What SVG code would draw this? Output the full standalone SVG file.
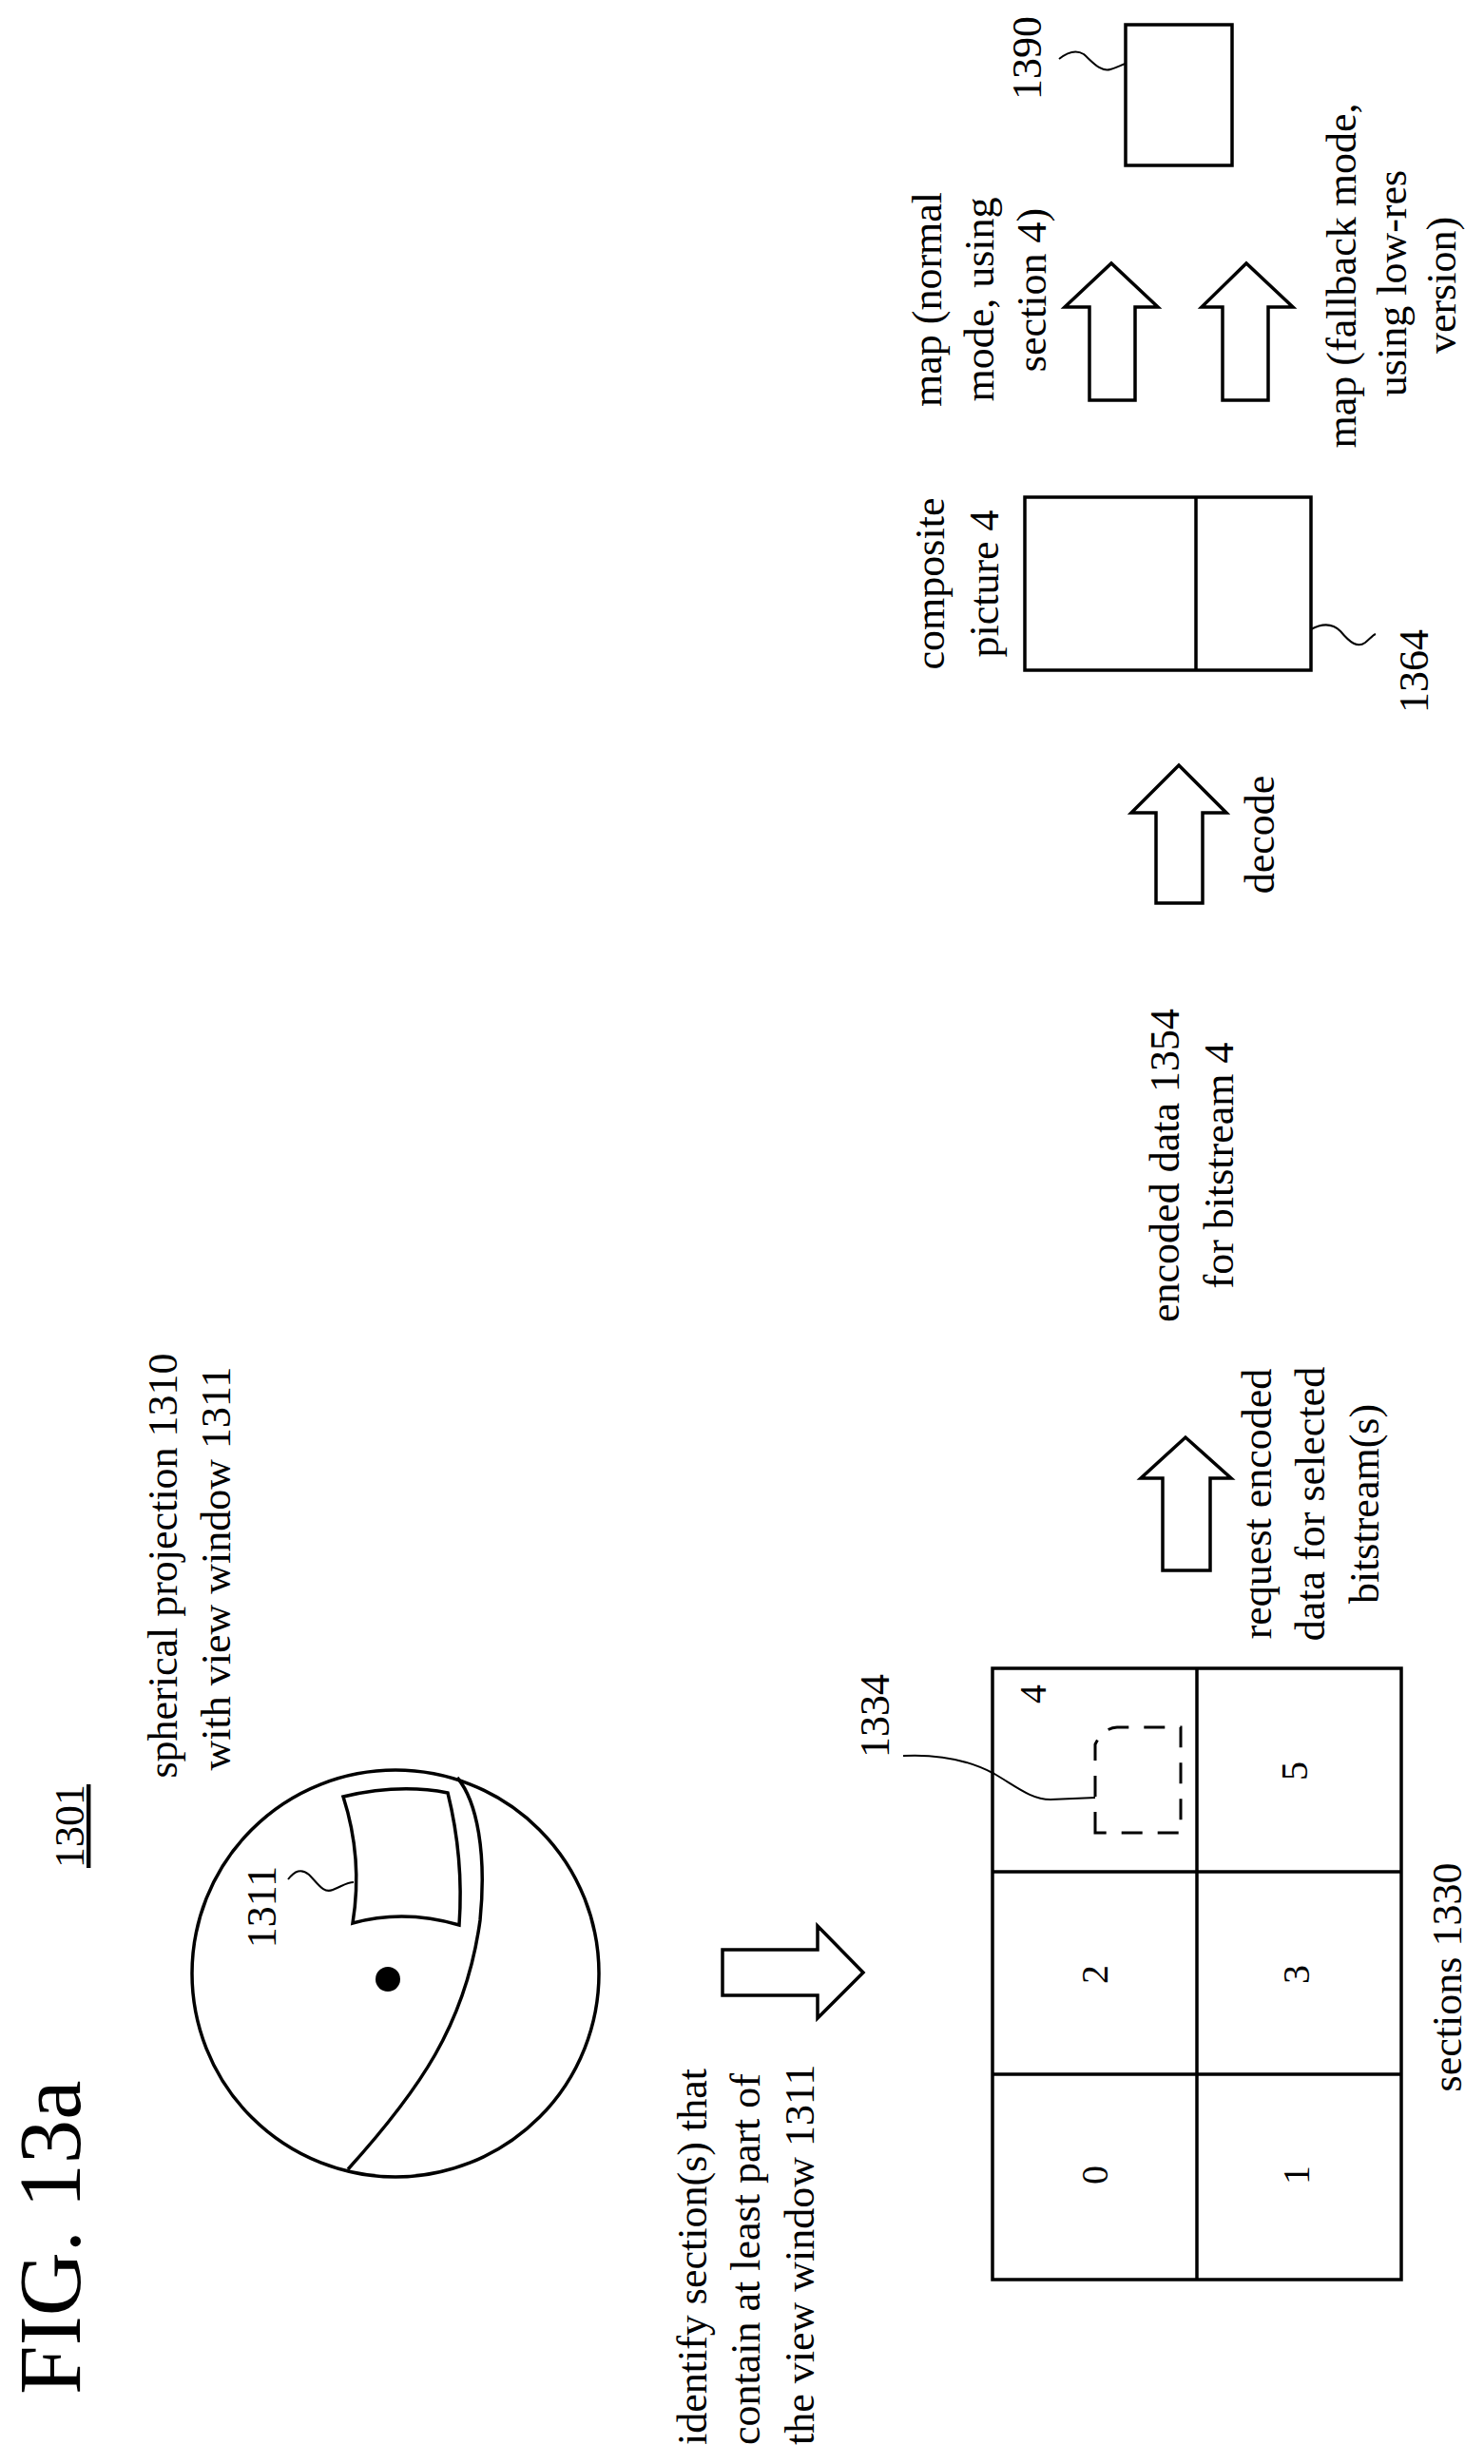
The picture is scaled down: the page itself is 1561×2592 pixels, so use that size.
<svg xmlns="http://www.w3.org/2000/svg" width="1561" height="2592" viewBox="0 0 1561 2592">
<style>
text{font-family:"Liberation Serif","Times New Roman",serif;font-size:44px;fill:#000}
.m{text-anchor:middle}
.s{fill:none;stroke:#000;stroke-width:3.5;stroke-linejoin:miter}
.t{fill:none;stroke:#000;stroke-width:2}
.d{fill:none;stroke:#000;stroke-width:3;stroke-dasharray:22 16}
</style>
<rect width="1561" height="2592" fill="#fff"/>
<g id="title">
<text transform="translate(84,2519) rotate(-90)" style="font-size:93px">FIG. 13a</text>
<text class="m" transform="translate(88,1921) rotate(-90)" text-decoration="underline">1301</text>
</g>
<g id="sphere">
<text class="m" transform="translate(186,1647) rotate(-90)">spherical projection 1310</text>
<text class="m" transform="translate(242,1650) rotate(-90)">with view window 1311</text>
<circle class="s" cx="416" cy="2076" r="214"/>
<circle cx="408" cy="2082" r="13" fill="#000"/>
<path class="s" d="M366,2282 C440,2200 490,2130 505,2020 C512,1950 502,1895 481,1870"/>
<path class="s" d="M361,1890 Q420,1876 471,1886 Q488,1955 483,2025 Q425,2008 371,2023 Q382,1955 361,1890 Z"/>
<text class="m" transform="translate(290,2006) rotate(-90)">1311</text>
<path class="t" d="M303,1977 C310,1968 317,1965 325,1972 C335,1982 340,1992 350,1988 C360,1984 365,1980 372,1980"/>
</g>
<g id="sections">
<rect class="s" x="1044" y="1755" width="430" height="643"/>
<line class="s" x1="1259" y1="1755" x2="1259" y2="2398"/>
<line class="s" x1="1044" y1="1969" x2="1474" y2="1969"/>
<line class="s" x1="1044" y1="2182" x2="1474" y2="2182"/>
<text class="m" transform="translate(1100,1782) rotate(-90)" style="font-size:40px">4</text>
<text class="m" transform="translate(1375,1863) rotate(-90)" style="font-size:40px">5</text>
<text class="m" transform="translate(1165,2077) rotate(-90)" style="font-size:40px">2</text>
<text class="m" transform="translate(1377,2077) rotate(-90)" style="font-size:40px">3</text>
<text class="m" transform="translate(1165,2288) rotate(-90)" style="font-size:40px">0</text>
<text class="m" transform="translate(1377,2288) rotate(-90)" style="font-size:40px">1</text>
<path class="d" d="M1152,1928 L1152,1835 Q1160,1818 1175,1817 L1242,1817 L1242,1928 Z"/>
<text class="m" transform="translate(935,1805) rotate(-90)">1334</text>
<path class="t" d="M950,1847 C990,1845 1020,1852 1046,1866 C1070,1880 1085,1893 1105,1893 L1152,1891"/>
<text class="m" transform="translate(1537,2080) rotate(-90)">sections 1330</text>
</g>
<g id="identify">
<text transform="translate(743,2572) rotate(-90)">identify section(s) that</text>
<text transform="translate(799,2572) rotate(-90)">contain at least part of</text>
<text transform="translate(856,2572) rotate(-90)">the view window 1311</text>
</g>
<g id="request">
<text class="m" transform="translate(1337,1582) rotate(-90)">request encoded</text>
<text class="m" transform="translate(1393,1582) rotate(-90)">data for selected</text>
<text class="m" transform="translate(1450,1582) rotate(-90)">bitstream(s)</text>
</g>
<g id="encoded">
<text class="m" transform="translate(1240,1226) rotate(-90)">encoded data 1354</text>
<text class="m" transform="translate(1297,1226) rotate(-90)">for bitstream 4</text>
</g>
<g id="decode">
<text class="m" transform="translate(1340,878) rotate(-90)">decode</text>
</g>
<g id="composite">
<text class="m" transform="translate(993,614) rotate(-90)">composite</text>
<text class="m" transform="translate(1050,614) rotate(-90)">picture 4</text>
<rect class="s" x="1078" y="523" width="301" height="182"/>
<line class="s" x1="1258" y1="523" x2="1258" y2="705"/>
<text class="m" transform="translate(1502,706) rotate(-90)">1364</text>
<path class="t" d="M1379,662 C1392,655 1402,656 1410,664 C1420,676 1428,682 1436,676 C1441,672 1444,668 1447,667"/>
</g>
<g id="map-normal">
<text class="m" transform="translate(990,315) rotate(-90)">map (normal</text>
<text class="m" transform="translate(1045,315) rotate(-90)">mode, using</text>
<text class="m" transform="translate(1100,305) rotate(-90)">section 4)</text>
</g>
<g id="map-fallback">
<text class="m" transform="translate(1426,290) rotate(-90)">map (fallback mode,</text>
<text class="m" transform="translate(1479,298) rotate(-90)">using low-res</text>
<text class="m" transform="translate(1531,300) rotate(-90)">version)</text>
</g>
<g id="display">
<rect class="s" x="1184" y="26" width="112" height="148"/>
<text class="m" transform="translate(1095,61) rotate(-90)">1390</text>
<path class="t" d="M1114,62 C1124,54 1132,52 1140,57 C1150,66 1158,76 1168,73 C1175,71 1180,68 1184,67"/>
</g>
<g id="connectors">
<path class="s" d="M760,2051 L860,2051 L860,2026 L908,2075 L860,2123 L860,2099 L760,2099 Z"/>
<path class="s" d="M1223,1652 L1223,1555 L1200,1555 L1247,1512 L1295,1555 L1273,1555 L1273,1652 Z"/>
<path class="s" d="M1216,950 L1216,855 L1190,855 L1240,805 L1290,855 L1265,855 L1265,950 Z"/>
<path class="s" d="M1146,421 L1146,323 L1120,323 L1169,277 L1218,323 L1194,323 L1194,421 Z"/>
<path class="s" d="M1286,421 L1286,323 L1264,323 L1311,277 L1360,323 L1334,323 L1334,421 Z"/>
</g>
</svg>
